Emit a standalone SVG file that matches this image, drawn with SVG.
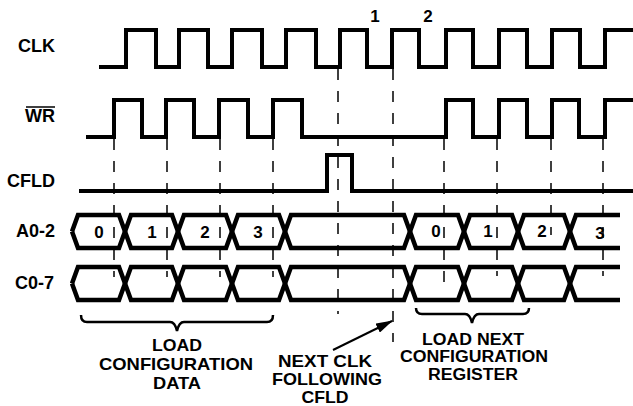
<svg xmlns="http://www.w3.org/2000/svg" width="633" height="406" viewBox="0 0 633 406">
<style>
text{font-family:"Liberation Sans",Arial,sans-serif;font-weight:bold;fill:#000}
.lbl{font-size:18px;text-anchor:end}
.big{font-size:17px;text-anchor:middle}
.mid{font-size:16.5px;text-anchor:middle}
.sm{font-size:16px;text-anchor:middle}
.dig{font-size:17px;text-anchor:middle}
.sig{fill:none;stroke:#000;stroke-width:4;stroke-linejoin:miter}
.bus{fill:none;stroke:#000;stroke-width:4.5;stroke-linejoin:miter}
.dash{stroke:#000;stroke-width:1.5;stroke-dasharray:11 11;fill:none}
.brace{fill:none;stroke:#000;stroke-width:2.5}
</style>
<defs>
<marker id="ah" markerWidth="17" markerHeight="10" refX="16" refY="5" orient="auto" markerUnits="userSpaceOnUse">
<path d="M0,0 L17,5 L0,10 Z" fill="#000"/>
</marker>
</defs>
<rect width="633" height="406" fill="#fff"/>
<g id="connectors">
<line class="dash" x1="114" y1="139" x2="114" y2="277"/>
<line class="dash" x1="167" y1="139" x2="167" y2="277"/>
<line class="dash" x1="220" y1="139" x2="220" y2="277"/>
<line class="dash" x1="273" y1="139" x2="273" y2="277"/>
<line class="dash" x1="338" y1="69" x2="338" y2="314"/>
<line class="dash" x1="393" y1="69" x2="393" y2="342"/>
<line class="dash" x1="444" y1="139" x2="444" y2="286"/>
<line class="dash" x1="497" y1="139" x2="497" y2="276"/>
<line class="dash" x1="551" y1="139" x2="551" y2="235"/>
<line class="dash" x1="603" y1="139" x2="603" y2="276"/>
<line x1="333" y1="350" x2="392" y2="321" stroke="#000" stroke-width="2" marker-end="url(#ah)"/>
</g>
<g id="clk">
<text class="lbl" x="55" y="52">CLK</text>
<path class="sig" d="M99,67 H126 V30 H156 V67 H179 V30 H208 V67 H232 V30 H262 V67 H286 V30 H316 V67 H340 V30 H367 V67 H392 V30 H419 V67 H446 V30 H473 V67 H499 V30 H527 V67 H552 V30 H580 V67 H605 V30 H633"/>
<text class="dig" x="375" y="22">1</text>
<text class="dig" x="428" y="22">2</text>
</g>
<g id="wr">
<text class="lbl" x="55" y="122">WR</text>
<line x1="26" y1="107" x2="55" y2="107" stroke="#000" stroke-width="1.5"/>
<path class="sig" d="M86,137 H114 V100 H142 V137 H166 V100 H194 V137 H219 V100 H248 V137 H273 V100 H302 V137 H446 V100 H473 V137 H499 V100 H527 V137 H552 V100 H579 V137 H605 V100 H633"/>
</g>
<g id="cfld">
<text class="lbl" x="55" y="187">CFLD</text>
<path class="sig" d="M79,191 H327 V155 H352 V191 H633"/>
</g>
<g id="a02">
<text class="lbl" x="55" y="237">A0-2</text>
<path class="bus" d="M72,231.5 L78,215 H119 L131,248 H172 L184,215 H226 L238,248 H279 L291,215 H404 L416,248 H458 L470,215 H512 L524,248 H564 L576,215 H620"/>
<path class="bus" d="M72,231.5 L78,248 H119 L131,215 H172 L184,248 H226 L238,215 H279 L291,248 H404 L416,215 H458 L470,248 H512 L524,215 H564 L576,248 H620"/>
<text class="dig" x="99" y="238">0</text>
<text class="dig" x="152" y="238">1</text>
<text class="dig" x="205" y="238">2</text>
<text class="dig" x="258" y="238">3</text>
<text class="dig" x="436" y="237">0</text>
<text class="dig" x="488" y="237">1</text>
<text class="dig" x="542" y="237">2</text>
<text class="dig" x="600" y="239">3</text>
</g>
<g id="c07">
<text class="lbl" x="54" y="289">C0-7</text>
<path class="bus" d="M72,283.5 L78,267 H119 L131,300 H172 L184,267 H226 L238,300 H279 L291,267 H404 L416,300 H458 L470,267 H512 L524,300 H564 L576,267 H620"/>
<path class="bus" d="M72,283.5 L78,300 H119 L131,267 H172 L184,300 H226 L238,267 H279 L291,300 H404 L416,267 H458 L470,300 H512 L524,267 H564 L576,300 H620"/>
</g>
<g id="load-config">
<path class="brace" d="M81,315 Q81,322 87,322 H170 Q175,322 177,331 Q179,322 184,322 H267 Q273,322 273,315"/>
<text class="big" x="177" y="351" textLength="50" lengthAdjust="spacingAndGlyphs">LOAD</text>
<text class="big" x="176" y="370" textLength="154" lengthAdjust="spacingAndGlyphs">CONFIGURATION</text>
<text class="big" x="177" y="389" textLength="48" lengthAdjust="spacingAndGlyphs">DATA</text>
</g>
<g id="next-clk">
<text class="mid" x="325" y="367" textLength="94" lengthAdjust="spacingAndGlyphs">NEXT CLK</text>
<text class="mid" x="327" y="385" textLength="110" lengthAdjust="spacingAndGlyphs">FOLLOWING</text>
<text class="mid" x="325" y="403" textLength="47" lengthAdjust="spacingAndGlyphs">CFLD</text>
</g>
<g id="load-next">
<path class="brace" d="M416,308 Q416,314 422,314 H465 Q470,314 472,323 Q474,314 479,314 H523 Q529,314 529,308"/>
<text class="sm" x="473" y="345" textLength="102" lengthAdjust="spacingAndGlyphs">LOAD NEXT</text>
<text class="sm" x="474" y="362" textLength="148" lengthAdjust="spacingAndGlyphs">CONFIGURATION</text>
<text class="sm" x="473" y="380" textLength="90" lengthAdjust="spacingAndGlyphs">REGISTER</text>
</g>
</svg>
